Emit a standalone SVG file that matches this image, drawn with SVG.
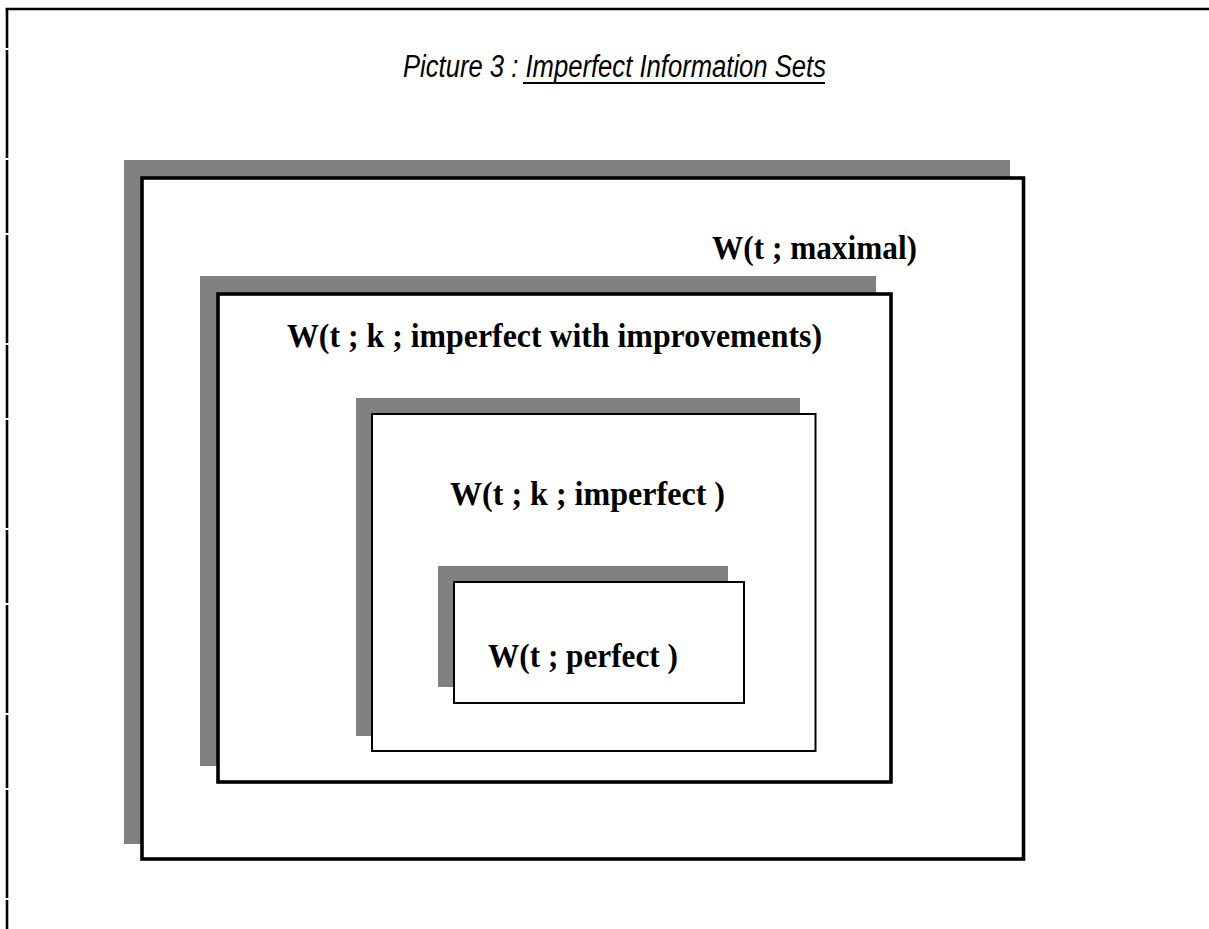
<svg xmlns="http://www.w3.org/2000/svg" width="1209" height="929" viewBox="0 0 1209 929">
<style>
.shadow{fill:#808080;stroke:none}
.thick{fill:#fff;stroke:#000;stroke-width:3.6}
.thin{fill:#fff;stroke:#000;stroke-width:2}
.lbl{font-family:"Liberation Serif","Times New Roman",serif;font-weight:bold;font-size:33px;fill:#000}
.title{font-family:"Liberation Sans Narrow","Arial Narrow","Liberation Sans",sans-serif;font-style:italic;font-size:31px;fill:#000}
.frame{stroke:#000;stroke-width:2.6;fill:none}
</style>
<rect x="0" y="0" width="1209" height="929" fill="#fff"/>
<g id="frame">
<line class="frame" x1="5.7" y1="9" x2="1209" y2="9"/>
<line class="frame" x1="7" y1="8" x2="7" y2="929" stroke-dasharray="108 2 73 2" stroke-dashoffset="143"/>
</g>
<g id="title">
<text class="title" x="403" y="77" textLength="423" lengthAdjust="spacingAndGlyphs">Picture 3 : Imperfect Information Sets</text>
<line x1="523" y1="83" x2="825" y2="83" stroke="#000" stroke-width="1.8"/>
</g>
<g id="maximal">
<rect class="shadow" x="124" y="160" width="886" height="684"/>
<rect class="thick" x="142" y="178" width="881.5" height="681"/>
<text class="lbl" x="712" y="259" textLength="205" lengthAdjust="spacingAndGlyphs">W(t ; maximal)</text>
</g>
<g id="improvements">
<rect class="shadow" x="200" y="276" width="676" height="490"/>
<rect class="thick" x="218" y="294" width="673" height="488"/>
<text class="lbl" x="287" y="347" textLength="535" lengthAdjust="spacingAndGlyphs">W(t ; k ; imperfect with improvements)</text>
</g>
<g id="imperfect">
<rect class="shadow" x="356" y="398" width="444" height="338"/>
<rect class="thin" x="372" y="414" width="443.5" height="337"/>
<text class="lbl" x="450" y="505" textLength="275" lengthAdjust="spacingAndGlyphs">W(t ; k ; imperfect )</text>
</g>
<g id="perfect">
<rect class="shadow" x="438" y="566" width="290" height="121"/>
<rect class="thin" x="454" y="582" width="290" height="121"/>
<text class="lbl" x="488" y="667" textLength="190" lengthAdjust="spacingAndGlyphs">W(t ; perfect )</text>
</g>
<g id="connectors"></g>
</svg>
